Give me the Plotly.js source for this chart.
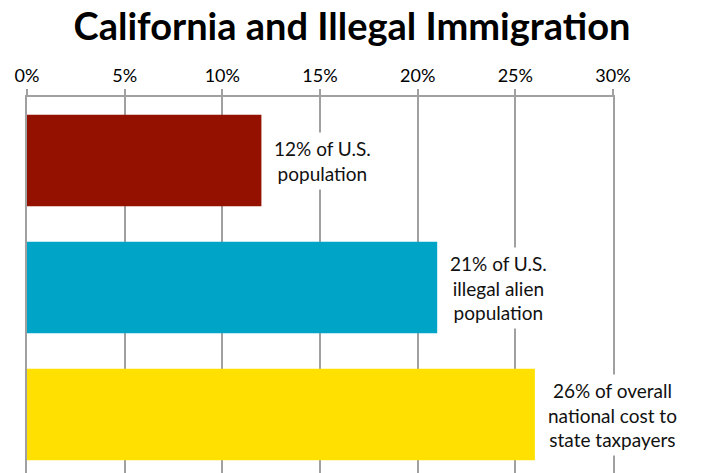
<!DOCTYPE html>
<html>
<head>
<meta charset="utf-8">
<script src="https://cdn.plot.ly/plotly-3.0.1.min.js"></script>
<style>html,body{margin:0;padding:0;background:#fff}#chart{width:704px;height:473px}</style>
</head>
<body>
<div id="chart"></div>
<script>
const categories = ["U.S. population", "U.S. illegal alien population", "National cost to state taxpayers"];
const values = [12, 21, 26];
const labels = ["12% of U.S.<br>population", "21% of U.S.<br>illegal alien<br>population", "26% of overall<br>national cost to<br>state taxpayers"];
const colors = ["#941100", "#00A4C7", "#FFE000"];
const tickVals = [0, 5, 10, 15, 20, 25, 30];
const tickText = ["0%", "5%", "10%", "15%", "20%", "25%", "30%"];

const font = "Lato, 'Open Sans', sans-serif";
const grey = "#a0a0a0";

const trace = {
  type: "bar",
  orientation: "h",
  y: categories,
  x: values,
  marker: {color: colors, line: {width: 0}},
  hoverinfo: "none"
};

const annotations = categories.map((c, i) => ({
  x: values[i], y: c, xref: "x", yref: "y",
  text: labels[i], showarrow: false,
  xanchor: "left", xshift: 8, align: "center",
  bgcolor: "#ffffff", borderpad: 4,
  font: {family: font, size: 19, color: "#111"}
}));

const layout = {
  width: 704, height: 473,
  margin: {l: 27, r: 91, t: 97, b: 0, pad: 0},
  paper_bgcolor: "#fff", plot_bgcolor: "#fff",
  title: {text: "<b>California and Illegal Immigration</b>", x: 0.5, xanchor: "center", y: 0.943, yanchor: "middle", yref: "container",
          font: {family: font, size: 38, color: "#000"}},
  bargap: 0.28,
  showlegend: false,
  xaxis: {side: "top", range: [0, 30], tickvals: tickVals, ticktext: tickText,
          showgrid: true, gridcolor: grey, gridwidth: 2, zeroline: false,
          showline: true, linecolor: grey, linewidth: 2,
          ticks: "outside", ticklen: 6, tickcolor: grey, tickwidth: 2,
          tickfont: {family: font, size: 18, color: "#000"}, fixedrange: true},
  yaxis: {range: [2.46, -0.5], showticklabels: false, showgrid: false, zeroline: false,
          showline: true, mirror: true, linecolor: grey, linewidth: 2, ticks: "", fixedrange: true},
  annotations: annotations
};

Plotly.newPlot("chart", [trace], layout, {displayModeBar: false, staticPlot: true});
</script>
</body>
</html>
